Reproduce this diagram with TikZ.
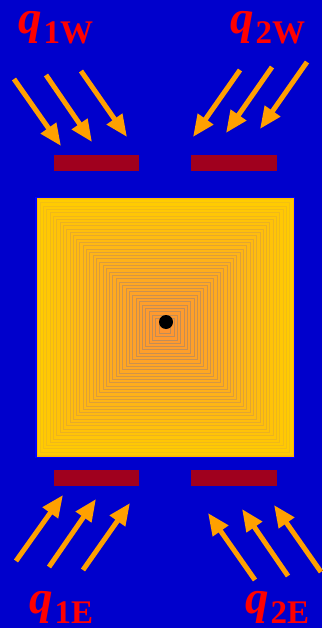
\documentclass[tikz,border=0pt]{standalone}
\usepackage{fontspec}
\setmainfont{Liberation Serif}
\usetikzlibrary{arrows.meta}
\definecolor{bgblue}{RGB}{0,0,204}
\definecolor{edgeblue}{RGB}{0,0,255}
\definecolor{barred}{RGB}{160,0,30}
\definecolor{arrorange}{RGB}{255,160,0}
\definecolor{sqout}{RGB}{255,204,0}
\definecolor{sqin}{RGB}{255,150,50}
\definecolor{sqline}{RGB}{190,140,90}
\definecolor{qred}{RGB}{255,0,0}
\tikzset{
  flux/.style={draw=arrorange, line width=5pt, -{Triangle[length=22pt,width=18pt]}},
  bar/.style={fill=barred, draw=none},
  qlabel/.style={text=qred, anchor=base west, inner sep=0pt, outer sep=0pt},
}
\newcommand{\qlab}[1]{{\fontsize{47}{47}\selectfont\bfseries\itshape q}\hspace{2pt}{\fontsize{33}{33}\selectfont\bfseries\raisebox{-10pt}{#1}}}
\begin{document}
\begin{tikzpicture}[x=1pt,y=-1pt]
\fill[bgblue] (0,0) rectangle (322,628);
\useasboundingbox (0,0) rectangle (322,628);
% frame
\draw[edgeblue, line width=1.5pt] (36,198) rectangle (294,457);
% concentric squares
\foreach \i in {0,...,37} {
  \pgfmathsetmacro\h{128-3.3*\i}
  \pgfmathsetmacro\t{100*\i/37}
  \colorlet{fc}{sqin!\t!sqout}
  \filldraw[fill=fc, draw=sqline!\t!fc!85!sqline, line width=0.9pt]
    (165-\h,327.5-\h) rectangle (165+\h,327.5+\h);
}
\draw[sqout!70!orange, line width=1pt] (37,199) rectangle (293,456);
\node[circle, fill=black, minimum size=14pt, inner sep=0pt] (dot) at (166,322) {};
% bars
\fill[bar] (54,155) rectangle (139,171);
\fill[bar] (191,155) rectangle (277,171);
\fill[bar] (54,470) rectangle (139,486);
\fill[bar] (191,470) rectangle (277,486);
% arrow coordinates
\coordinate (w1s) at (14,79);  \coordinate (w1e) at (61,146);
\coordinate (w2s) at (46,75);  \coordinate (w2e) at (92,142);
\coordinate (w3s) at (81,71);  \coordinate (w3e) at (127,137);
\coordinate (v1s) at (240,70); \coordinate (v1e) at (193,137);
\coordinate (v2s) at (272,67); \coordinate (v2e) at (226,133);
\coordinate (v3s) at (307,62); \coordinate (v3e) at (260,129);
\coordinate (e1s) at (16,561); \coordinate (e1e) at (63,495);
\coordinate (e2s) at (49,567); \coordinate (e2e) at (96,499);
\coordinate (e3s) at (83,570); \coordinate (e3e) at (130,503);
\coordinate (f1s) at (255,580); \coordinate (f1e) at (208,513);
\coordinate (f2s) at (288,576); \coordinate (f2e) at (242,509);
\coordinate (f3s) at (321,572); \coordinate (f3e) at (274,505);
\foreach \a in {w1,w2,w3,v1,v2,v3,e1,e2,e3,f1,f2,f3}
  \draw[flux] (\a s) -- (\a e);
% labels
\node[qlabel] (q1W) at (18,34) {\qlab{1W}};
\node[qlabel] (q2W) at (230,34) {\qlab{2W}};
\node[qlabel] (q1E) at (29,613) {\qlab{1E}};
\node[qlabel] (q2E) at (245,613) {\qlab{2E}};
\end{tikzpicture}
\end{document}
